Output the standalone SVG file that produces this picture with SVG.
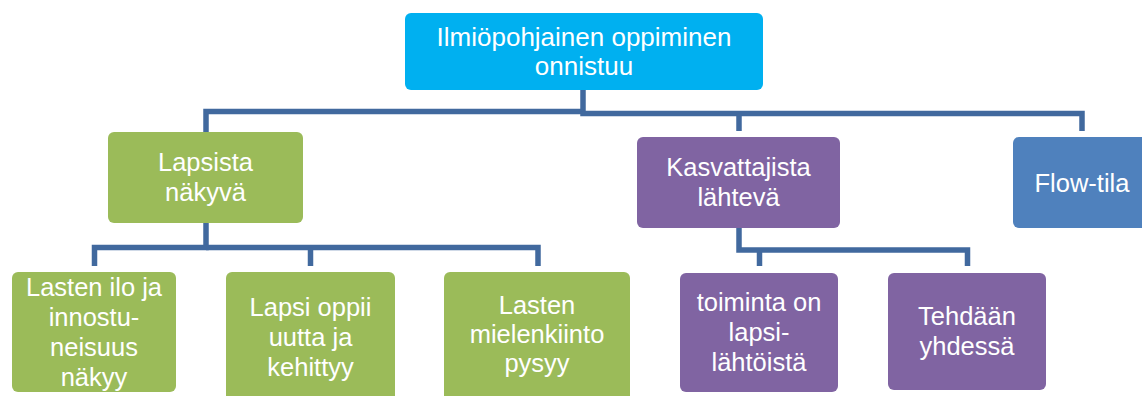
<svg xmlns="http://www.w3.org/2000/svg" width="1142" height="396" viewBox="0 0 1142 396">
<style>
.t{font-family:"Liberation Sans",Arial,sans-serif;fill:#fff;text-anchor:middle;font-size:25.5px}
.top{font-size:26px}
.c{fill:none;stroke:#41699E;stroke-width:5.5;stroke-linejoin:miter}
.cy{fill:#00B0F0}.gr{fill:#9BBB59}.pu{fill:#8064A2}.bl{fill:#4F81BD}
</style>
<rect width="1142" height="396" fill="#fff"/>
<g id="connectors">
<path class="c" d="M583,90 V111.5 H206 V132"/>
<path class="c" d="M583,111.5 V113.5 H1082 V131"/>
<path class="c" d="M739,113.5 V131"/>
<path class="c" d="M206,223 V247.5 H94.5 V266"/>
<path class="c" d="M206,247.5 H538 V266"/>
<path class="c" d="M310.5,247.5 V266"/>
<path class="c" d="M739,228 V250 H967.5 V266"/>
<path class="c" d="M759.5,250 V266"/>
</g>
<g id="n-top">
<rect class="cy" x="405" y="13" width="358" height="77" rx="6"/>
<text class="t top" x="584" y="46">Ilmiöpohjainen oppiminen</text>
<text class="t top" x="584" y="75">onnistuu</text>
</g>
<g id="n-lapsista">
<rect class="gr" x="108" y="132" width="195" height="91" rx="6"/>
<text class="t" x="205.5" y="171">Lapsista</text>
<text class="t" x="205.5" y="201">näkyvä</text>
</g>
<g id="n-kasvattajista">
<rect class="pu" x="637" y="137" width="203" height="91" rx="6"/>
<text class="t" x="738.5" y="176">Kasvattajista</text>
<text class="t" x="738.5" y="206">lähtevä</text>
</g>
<g id="n-flow">
<rect class="bl" x="1013" y="137" width="140" height="91" rx="6"/>
<text class="t" x="1082" y="192">Flow-tila</text>
</g>
<g id="n-ilo">
<rect class="gr" x="12" y="272" width="164" height="120" rx="6"/>
<text class="t" x="94" y="296">Lasten ilo ja</text>
<text class="t" x="94" y="326">innostu-</text>
<text class="t" x="94" y="356">neisuus</text>
<text class="t" x="94" y="386">näkyy</text>
</g>
<g id="n-oppii">
<rect class="gr" x="226" y="272" width="169" height="130" rx="6"/>
<text class="t" x="310.5" y="316">Lapsi oppii</text>
<text class="t" x="310.5" y="346">uutta ja</text>
<text class="t" x="310.5" y="376">kehittyy</text>
</g>
<g id="n-mielenkiinto">
<rect class="gr" x="444" y="272" width="186" height="130" rx="6"/>
<text class="t" x="537" y="314">Lasten</text>
<text class="t" x="537" y="343">mielenkiinto</text>
<text class="t" x="537" y="372">pysyy</text>
</g>
<g id="n-toiminta">
<rect class="pu" x="680" y="273" width="158" height="119" rx="6"/>
<text class="t" x="759" y="311">toiminta on</text>
<text class="t" x="759" y="341">lapsi-</text>
<text class="t" x="759" y="371">lähtöistä</text>
</g>
<g id="n-tehdaan">
<rect class="pu" x="888" y="273" width="158" height="117" rx="6"/>
<text class="t" x="967" y="325">Tehdään</text>
<text class="t" x="967" y="355">yhdessä</text>
</g>
</svg>
